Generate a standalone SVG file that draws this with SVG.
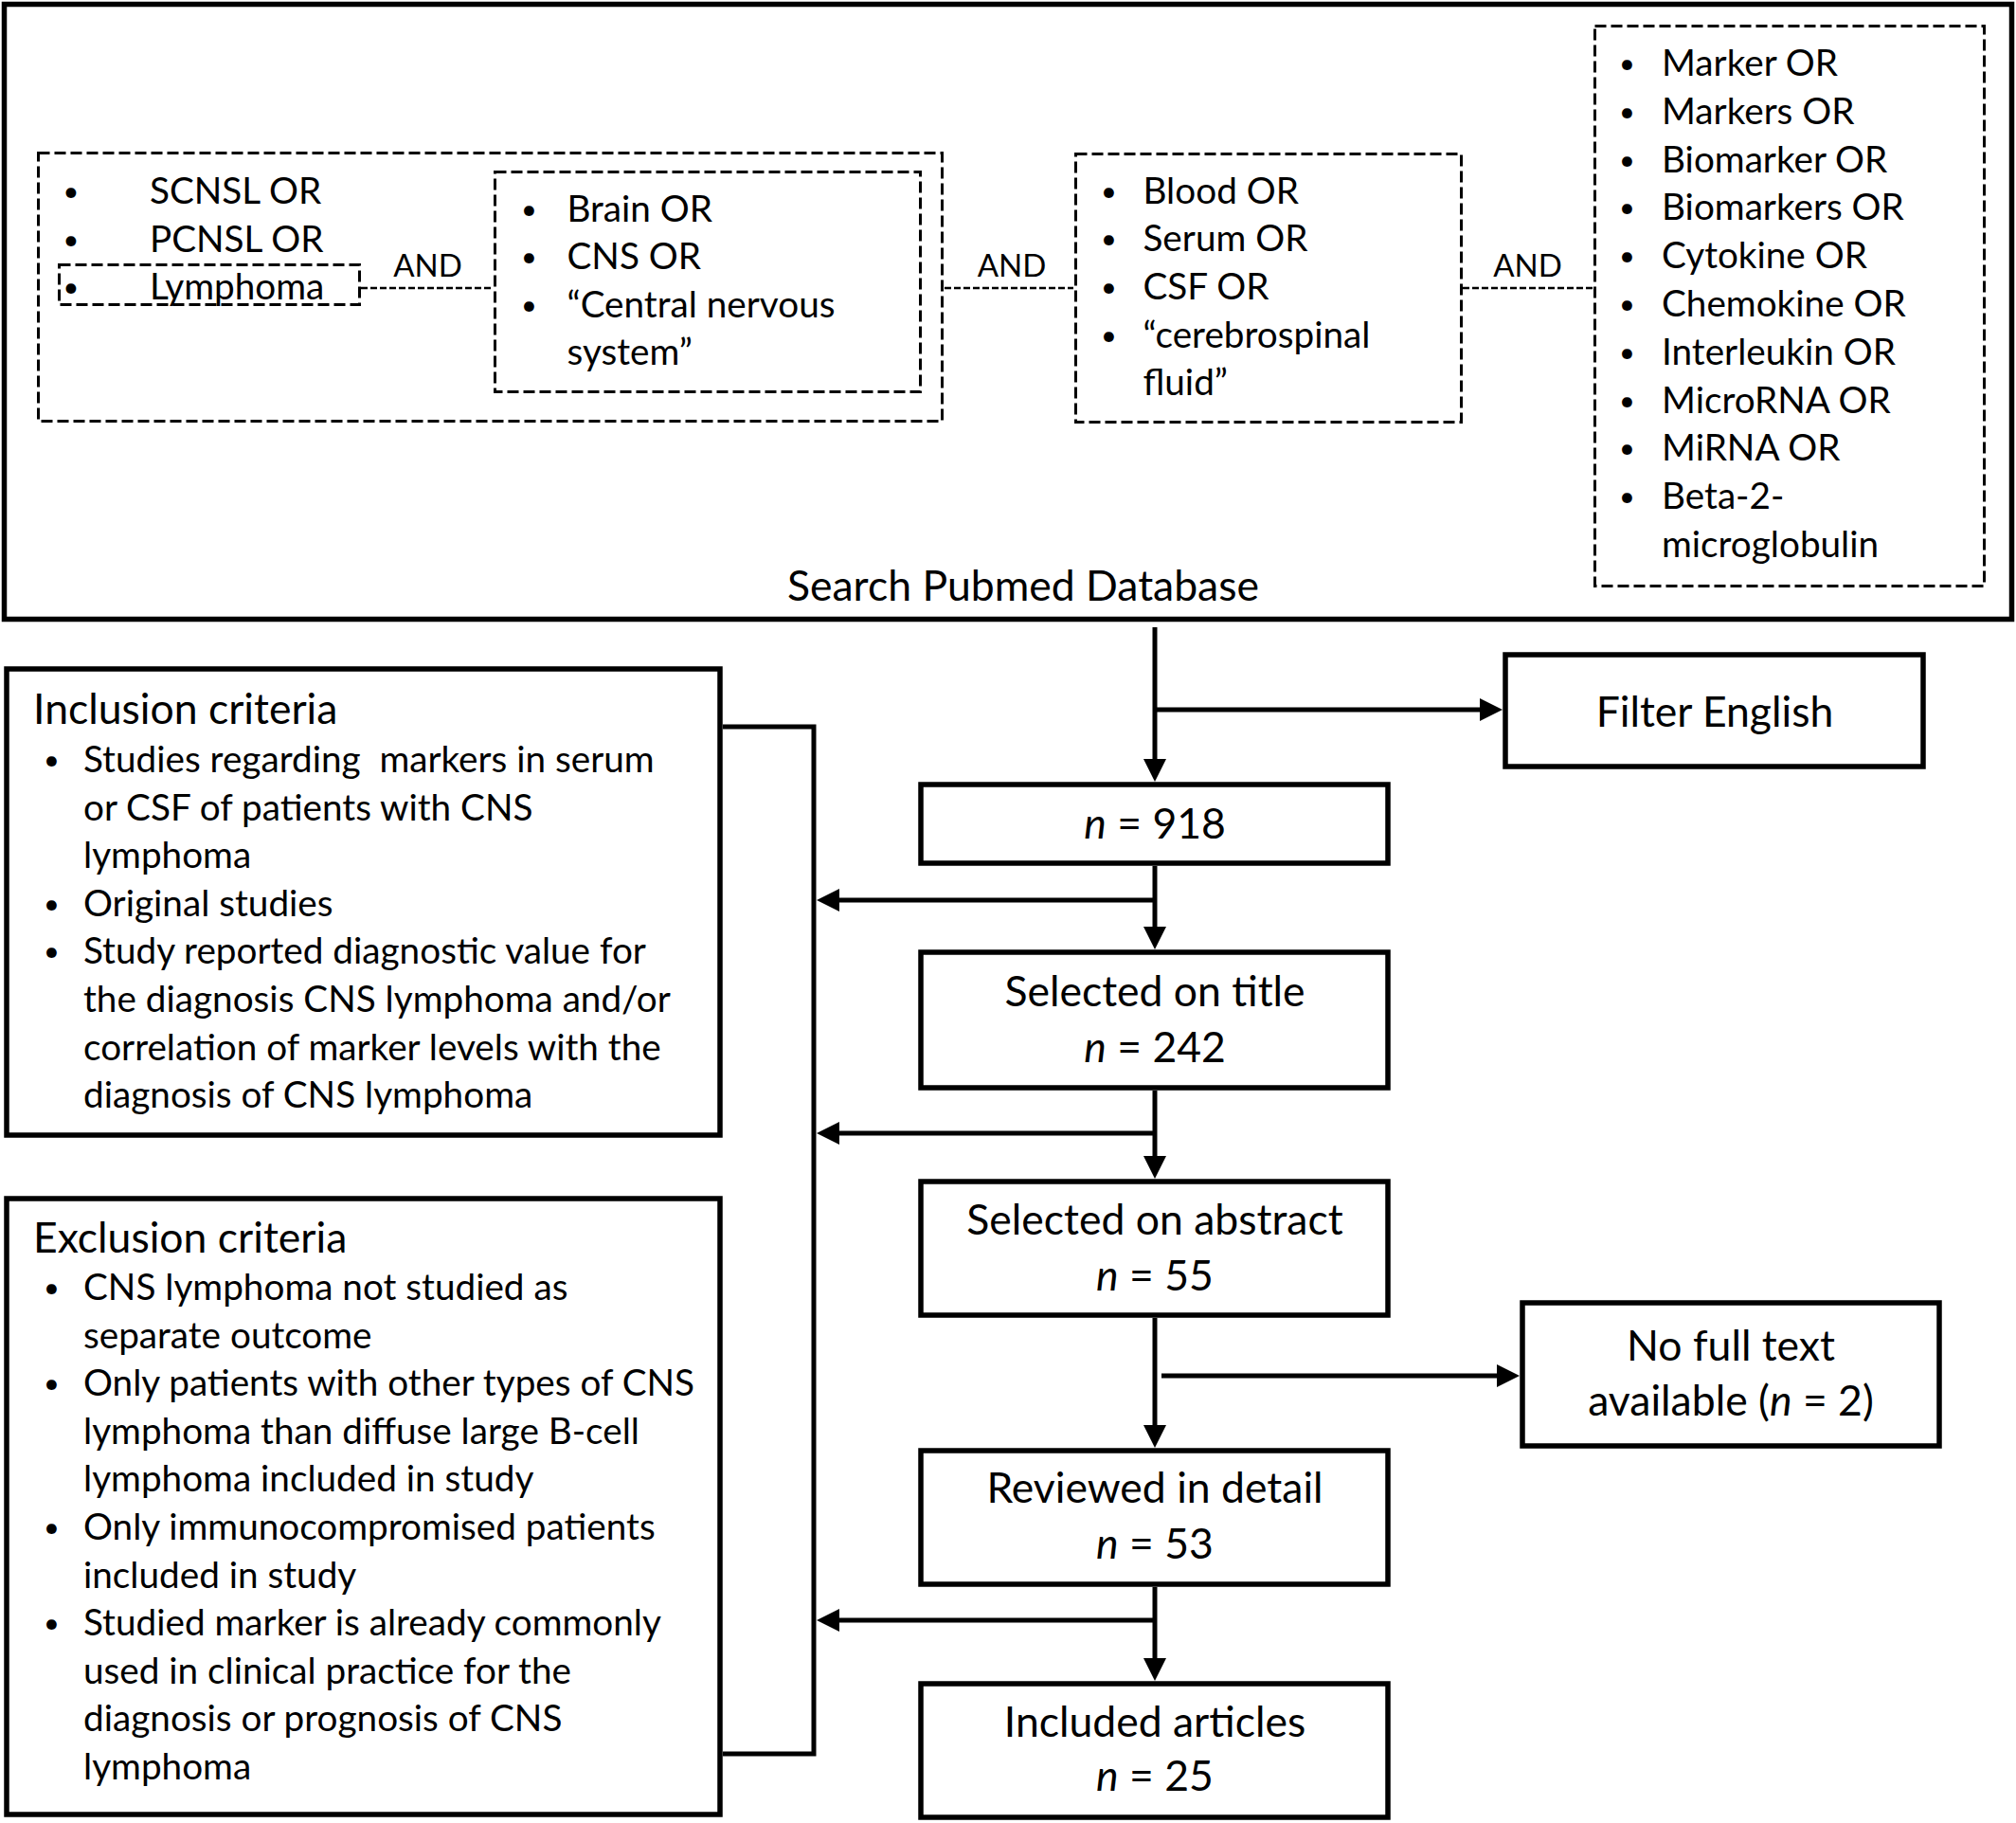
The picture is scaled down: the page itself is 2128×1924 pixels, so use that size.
<svg xmlns="http://www.w3.org/2000/svg" width="2128" height="1924" viewBox="0 0 2128 1924">
<style>
text{font-family:Lato,"Open Sans","Liberation Sans",sans-serif;fill:#000}
.h{font-size:44.5px}
.l{font-size:38.7px}
.b{font-size:29px;text-anchor:middle}
.and{font-size:33px}
.solid{fill:#fff;stroke:#000;stroke-width:5.5}
.dash{fill:none;stroke:#000;stroke-width:3;stroke-dasharray:12 5}
.dl{fill:none;stroke:#000;stroke-width:2.5;stroke-dasharray:7 3}
.c{fill:none;stroke:#000;stroke-width:5}
.m{text-anchor:middle}
</style>
<defs>
<marker id="ah" viewBox="0 0 24 24" refX="9" refY="12" markerWidth="24" markerHeight="24" markerUnits="userSpaceOnUse" orient="auto">
<path d="M0,0 L24,12 L0,24 z" fill="#000"/>
</marker>
</defs>
<rect width="2128" height="1924" fill="#fff"/>

<g id="search">
<rect x="4.5" y="4.5" width="2119" height="649" fill="none" stroke="#000" stroke-width="5.5"/>
<text class="h m" x="1080" y="634">Search Pubmed Database</text>
</g>

<g id="terms-lymphoma">
<rect class="dash" x="40.5" y="161.5" width="954" height="283"/>
<rect class="dash" x="62.5" y="279.5" width="317" height="42"/>
<text class="b" x="75" y="212">•</text><text class="l" x="158" y="215">SCNSL OR</text>
<text class="b" x="75" y="262.5">•</text><text class="l" x="158" y="265.5">PCNSL OR</text>
<text class="b" x="75" y="313">•</text><text class="l" x="158" y="316">Lymphoma</text>
</g>

<g id="terms-cns">
<rect class="dash" x="522.5" y="181.5" width="449" height="232"/>
<text class="b" x="558.5" y="230.6">•</text><text class="l" x="598.5" y="233.6">Brain OR</text>
<text class="b" x="558.5" y="281.2">•</text><text class="l" x="598.5" y="284.2">CNS OR</text>
<text class="b" x="558.5" y="331.8">•</text><text class="l" x="598.5" y="334.8">“Central nervous</text>
<text class="l" x="598.5" y="385.4">system”</text>
</g>

<g id="terms-fluid">
<rect class="dash" x="1135.5" y="162.5" width="407" height="283"/>
<text class="b" x="1170.5" y="211.7">•</text><text class="l" x="1206.5" y="214.7">Blood OR</text>
<text class="b" x="1170.5" y="262.3">•</text><text class="l" x="1206.5" y="265.3">Serum OR</text>
<text class="b" x="1170.5" y="313">•</text><text class="l" x="1206.5" y="316">CSF OR</text>
<text class="b" x="1170.5" y="363.5">•</text><text class="l" x="1206.5" y="366.5">“cerebrospinal</text>
<text class="l" x="1206.5" y="417">fluid”</text>
</g>

<g id="terms-marker">
<rect class="dash" x="1683.5" y="27.5" width="411" height="591"/>
<text class="b" x="1717.5" y="77">•</text><text class="l" x="1754" y="80">Marker OR</text>
<text class="b" x="1717.5" y="127.8">•</text><text class="l" x="1754" y="130.8">Markers OR</text>
<text class="b" x="1717.5" y="178.6">•</text><text class="l" x="1754" y="181.6">Biomarker OR</text>
<text class="b" x="1717.5" y="229.4">•</text><text class="l" x="1754" y="232.4">Biomarkers OR</text>
<text class="b" x="1717.5" y="280.2">•</text><text class="l" x="1754" y="283.2">Cytokine OR</text>
<text class="b" x="1717.5" y="331">•</text><text class="l" x="1754" y="334">Chemokine OR</text>
<text class="b" x="1717.5" y="381.8">•</text><text class="l" x="1754" y="384.8">Interleukin OR</text>
<text class="b" x="1717.5" y="432.6">•</text><text class="l" x="1754" y="435.6">MicroRNA OR</text>
<text class="b" x="1717.5" y="483.4">•</text><text class="l" x="1754" y="486.4">MiRNA OR</text>
<text class="b" x="1717.5" y="534.2">•</text><text class="l" x="1754" y="537.2">Beta-2-</text>
<text class="l" x="1754" y="588">microglobulin</text>
</g>

<g id="inclusion">
<rect class="solid" x="7" y="706" width="753" height="492"/>
<text class="h" x="35" y="764">Inclusion criteria</text>
<text class="b" x="54.5" y="812">•</text><text class="l" x="88" y="815">Studies regarding&#160; markers in serum</text>
<text class="l" x="88" y="865.6">or CSF of patients with CNS</text>
<text class="l" x="88" y="916.2">lymphoma</text>
<text class="b" x="54.5" y="963.8">•</text><text class="l" x="88" y="966.8">Original studies</text>
<text class="b" x="54.5" y="1014.4">•</text><text class="l" x="88" y="1017.4">Study reported diagnostic value for</text>
<text class="l" x="88" y="1068">the diagnosis CNS lymphoma and/or</text>
<text class="l" x="88" y="1118.6">correlation of marker levels with the</text>
<text class="l" x="88" y="1169.2">diagnosis of CNS lymphoma</text>
</g>

<g id="exclusion">
<rect class="solid" x="7" y="1265" width="753" height="650"/>
<text class="h" x="35" y="1322">Exclusion criteria</text>
<text class="b" x="54.5" y="1369">•</text><text class="l" x="88" y="1372">CNS lymphoma not studied as</text>
<text class="l" x="88" y="1422.6">separate outcome</text>
<text class="b" x="54.5" y="1470.2">•</text><text class="l" x="88" y="1473.2">Only patients with other types of CNS</text>
<text class="l" x="88" y="1523.8">lymphoma than diffuse large B-cell</text>
<text class="l" x="88" y="1574.4">lymphoma included in study</text>
<text class="b" x="54.5" y="1622">•</text><text class="l" x="88" y="1625">Only immunocompromised patients</text>
<text class="l" x="88" y="1675.6">included in study</text>
<text class="b" x="54.5" y="1723.2">•</text><text class="l" x="88" y="1726.2">Studied marker is already commonly</text>
<text class="l" x="88" y="1776.8">used in clinical practice for the</text>
<text class="l" x="88" y="1827.4">diagnosis or prognosis of CNS</text>
<text class="l" x="88" y="1878">lymphoma</text>
</g>

<g id="filter-english">
<rect class="solid" x="1589" y="691" width="441" height="118"/>
<text class="h m" x="1810" y="766.5">Filter English</text>
</g>

<g id="n918">
<rect class="solid" x="972" y="828" width="493" height="83"/>
<text class="h m" x="1219" y="885"><tspan font-style="italic">n</tspan> = 918</text>
</g>

<g id="selected-title">
<rect class="solid" x="972" y="1005" width="493" height="143"/>
<text class="h m" x="1219" y="1062.4">Selected on title</text>
<text class="h m" x="1219" y="1120.8"><tspan font-style="italic">n</tspan> = 242</text>
</g>

<g id="selected-abstract">
<rect class="solid" x="972" y="1247" width="493" height="141"/>
<text class="h m" x="1219" y="1303">Selected on abstract</text>
<text class="h m" x="1219" y="1362"><tspan font-style="italic">n</tspan> = 55</text>
</g>

<g id="no-full-text">
<rect class="solid" x="1607" y="1375" width="440" height="151"/>
<text class="h m" x="1827" y="1436">No full text</text>
<text class="h m" x="1827" y="1493.5">available (<tspan font-style="italic">n</tspan> = 2)</text>
</g>

<g id="reviewed">
<rect class="solid" x="972" y="1531" width="493" height="141"/>
<text class="h m" x="1219" y="1586">Reviewed in detail</text>
<text class="h m" x="1219" y="1645"><tspan font-style="italic">n</tspan> = 53</text>
</g>

<g id="included">
<rect class="solid" x="972" y="1777" width="493" height="141"/>
<text class="h m" x="1219" y="1832.5">Included articles</text>
<text class="h m" x="1219" y="1890"><tspan font-style="italic">n</tspan> = 25</text>
</g>

<g id="connectors">
<path class="dl" d="M381,304 H521"/>
<path class="dl" d="M997,304 H1133"/>
<path class="dl" d="M1544,304 H1682"/>
<text class="and m" x="451.5" y="292">AND</text>
<text class="and m" x="1068" y="292">AND</text>
<text class="and m" x="1612.5" y="292">AND</text>
<path class="c" d="M763,767 H859 V1851 H763"/>
<path class="c" d="M1219,662 V810" marker-end="url(#ah)"/>
<path class="c" d="M1219,749 H1571" marker-end="url(#ah)"/>
<path class="c" d="M1219,914 V987" marker-end="url(#ah)"/>
<path class="c" d="M1219,950 H877" marker-end="url(#ah)"/>
<path class="c" d="M1219,1151 V1229" marker-end="url(#ah)"/>
<path class="c" d="M1219,1196 H877" marker-end="url(#ah)"/>
<path class="c" d="M1219,1391 V1513" marker-end="url(#ah)"/>
<path class="c" d="M1226,1452 H1589" marker-end="url(#ah)"/>
<path class="c" d="M1219,1675 V1759" marker-end="url(#ah)"/>
<path class="c" d="M1219,1710 H877" marker-end="url(#ah)"/>
</g>
</svg>
